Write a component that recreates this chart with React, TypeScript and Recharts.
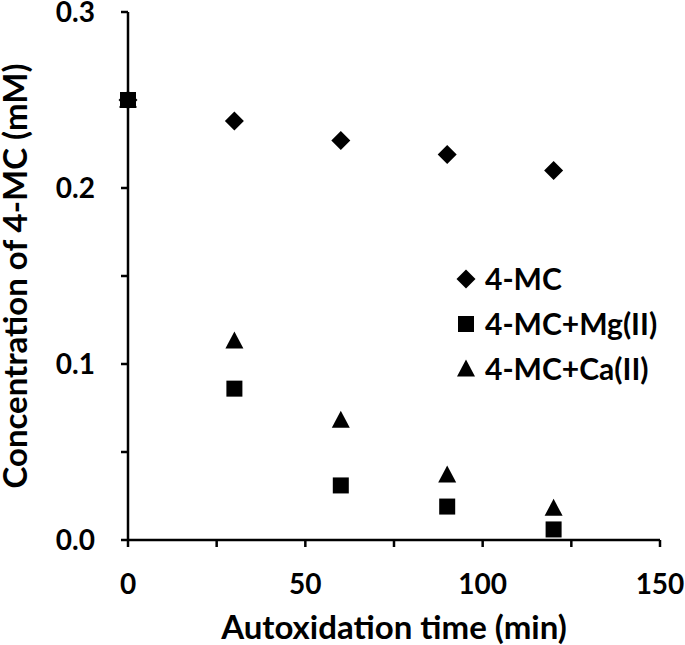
import React from 'react';
import { ScatterChart, Scatter, XAxis, YAxis } from 'recharts';

const times = [0, 30, 60, 90, 120];
const mc = [0.25, 0.238, 0.227, 0.219, 0.21];
const mcMg = [0.25, 0.086, 0.031, 0.019, 0.006];
const mcCa = [0.25, 0.113, 0.068, 0.037, 0.018];
const xTicks = [0, 25, 50, 75, 100, 125, 150];
const yTicks = [0, 0.05, 0.1, 0.15, 0.2, 0.25, 0.3];
const seriesNames = ['4-MC', '4-MC+Mg(II)', '4-MC+Ca(II)'];

const toPoints = (vals: number[]) => times.map((t, i) => ({ x: t, y: vals[i] }));

const FONT = 'Lato, "Open Sans", sans-serif';

const Diamond = (p: any) => {
  const { cx, cy } = p;
  const r = 9.5;
  return <polygon points={`${cx},${cy - r} ${cx + r},${cy} ${cx},${cy + r} ${cx - r},${cy}`} fill="#000" />;
};
const Square = (p: any) => {
  const { cx, cy } = p;
  const h = 8;
  return <rect x={cx - h} y={cy - h} width={2 * h} height={2 * h} fill="#000" />;
};
const Triangle = (p: any) => {
  const { cx, cy } = p;
  return <polygon points={`${cx},${cy - 9.5} ${cx + 9},${cy + 7.5} ${cx - 9},${cy + 7.5}`} fill="#000" />;
};

const legendShapes = [
  (x: number, y: number) => <Diamond cx={x} cy={y} />,
  (x: number, y: number) => <Square cx={x} cy={y} />,
  (x: number, y: number) => <Triangle cx={x} cy={y} />,
];

const LegendOverlay = () => (
  <div style={{ position: 'absolute', left: 452, top: 256, fontFamily: FONT, fontWeight: 700, fontSize: 30, color: '#000' }}>
    {seriesNames.map((n, i) => (
      <div key={n} style={{ display: 'flex', alignItems: 'center', height: 45, lineHeight: '45px', whiteSpace: 'nowrap' }}>
        <svg width={28} height={28} style={{ marginRight: 5, flex: 'none' }}>
          {legendShapes[i](14, 14)}
        </svg>
        <span>{n}</span>
      </div>
    ))}
  </div>
);

export default function App() {
  return (
    <div style={{ position: 'absolute', left: 0, top: 0, width: 685, height: 645, background: '#fff' }}>
      <ScatterChart width={685} height={645} margin={{ top: 12, right: 25, bottom: 0, left: 0 }}>
        <XAxis
          type="number"
          dataKey="x"
          domain={[0, 150]}
          ticks={xTicks}
          interval={0}
          tickFormatter={(v: number) => (v % 50 === 0 ? String(v) : '')}
          height={105}
          tickSize={7}
          tickMargin={27}
          stroke="#000"
          strokeWidth={2.5}
          tick={{ fill: '#000', fontSize: 28, fontFamily: FONT, fontWeight: 700 }}
          label={{ value: 'Autoxidation time (min)', position: 'insideBottom', offset: 6, fill: '#000', fontSize: 33, fontFamily: FONT, fontWeight: 700 }}
        />
        <YAxis
          type="number"
          dataKey="y"
          domain={[0, 0.3]}
          ticks={yTicks}
          interval={0}
          tickFormatter={(v: number) => (Math.abs(v * 10 - Math.round(v * 10)) < 1e-6 ? v.toFixed(1) : '')}
          width={128}
          tickSize={7}
          tickMargin={26}
          stroke="#000"
          strokeWidth={2.5}
          tick={{ fill: '#000', fontSize: 28, fontFamily: FONT, fontWeight: 700 }}
          label={{ value: 'Concentration of 4-MC (mM)', angle: -90, position: 'insideLeft', offset: 15, fill: '#000', fontSize: 33, fontFamily: FONT, fontWeight: 700, style: { textAnchor: 'middle' } }}
        />
        <Scatter name={seriesNames[2]} data={toPoints(mcCa)} shape={<Triangle />} isAnimationActive={false} />
        <Scatter name={seriesNames[1]} data={toPoints(mcMg)} shape={<Square />} isAnimationActive={false} />
        <Scatter name={seriesNames[0]} data={toPoints(mc)} shape={<Diamond />} isAnimationActive={false} />
      </ScatterChart>
      <LegendOverlay />
    </div>
  );
}
